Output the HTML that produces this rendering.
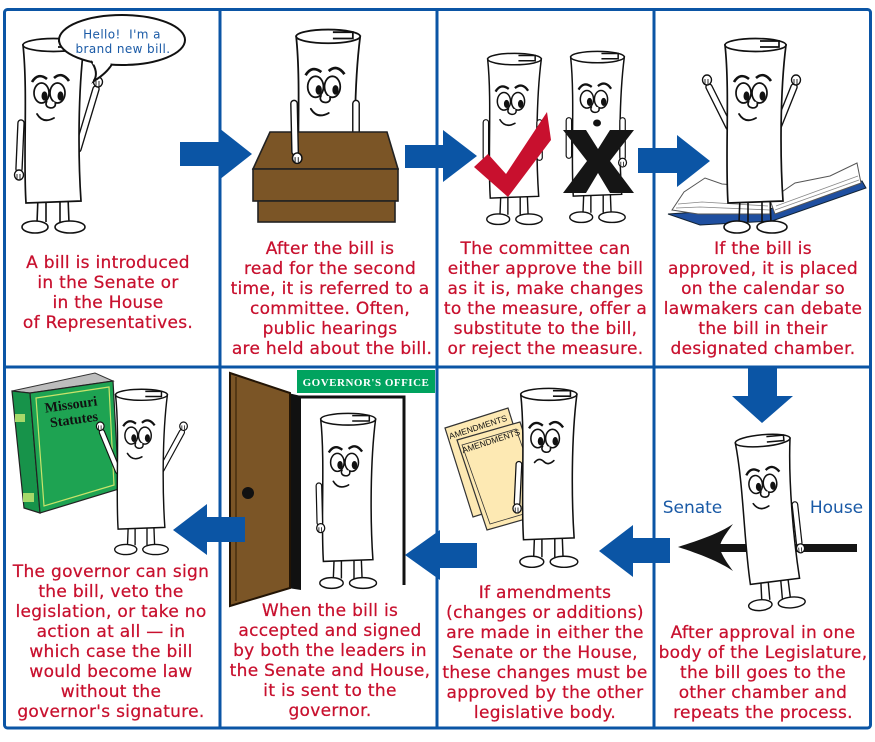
<!DOCTYPE html>
<html><head><meta charset="utf-8">
<style>
html,body{margin:0;padding:0;background:#fff;}
svg{display:block;}
.t{font-family:"DejaVu Sans","Liberation Sans",sans-serif;font-size:17px;fill:#c8102e;stroke:#c8102e;stroke-width:0.25;letter-spacing:0.3px;text-anchor:middle;}
.ao{stroke:#111;stroke-width:7.5;fill:none;stroke-linecap:round;}
.ai{stroke:#fff;stroke-width:4.8;fill:none;stroke-linecap:round;}
.ln{fill:none;stroke:#111;stroke-width:1.8;stroke-linecap:round;}
.bl{fill:#0b55a5;}
</style></head><body>
<svg width="875" height="742" viewBox="0 0 875 742" xmlns="http://www.w3.org/2000/svg">
<defs>
 <g id="legs" fill="white" stroke="#111" stroke-width="1.6">
  <path d="M18,160 L17,186 M26,160 L26,185 M40,160 L40,185 M48,160 L49,186" fill="none"/>
  <ellipse cx="15" cy="190" rx="13" ry="6"/>
  <ellipse cx="50" cy="190" rx="15" ry="6"/>
 </g>
 <g id="body" stroke="#111" stroke-width="1.7" fill="white">
  <path d="M3,8 C8,55 3,120 6,166 L61,164 C58,120 58,55 64,8 Z"/>
  <ellipse cx="33.5" cy="8" rx="30.5" ry="6.5"/>
  <path d="M38,4 L57,4 L57,10 L38,10"/>
  <path d="M12,45 Q18,35 27,42 M34,41 Q42,34 49,44" fill="none" stroke-width="2.6"/>
  <ellipse cx="21.5" cy="56" rx="7.5" ry="10"/>
  <ellipse cx="37.5" cy="56" rx="7.5" ry="10"/>
  <ellipse cx="24.5" cy="59" rx="3" ry="4.6" fill="#111" stroke="none"/>
  <ellipse cx="40.5" cy="59" rx="3" ry="4.6" fill="#111" stroke="none"/>
  <path d="M27,64 C22,72 38,74 35,65"/>
 </g>
 <g id="hand">
  <ellipse rx="4.5" ry="5" fill="white" stroke="#111" stroke-width="1.4"/>
  <path d="M-2,-1 L-2,4 M1,-1 L1,4" stroke="#111" stroke-width="0.9"/>
 </g>
</defs>

<!-- Panel borders -->
<rect x="4.5" y="9.5" width="866" height="718.5" rx="3" fill="#fff" stroke="#0b55a5" stroke-width="3"/>
<line x1="220" y1="9.5" x2="220" y2="728" stroke="#0b55a5" stroke-width="3"/>
<line x1="437" y1="9.5" x2="437" y2="728" stroke="#0b55a5" stroke-width="3"/>
<line x1="654" y1="9.5" x2="654" y2="728" stroke="#0b55a5" stroke-width="3"/>
<line x1="4.5" y1="367" x2="870.5" y2="367" stroke="#0b55a5" stroke-width="3"/>

<!-- Panel 1 -->
<g transform="translate(20,37)">
 <path class="ao" d="M58,112 L76,52"/><path class="ai" d="M58,112 L76,52"/>
 <use href="#hand" x="78" y="45"/>
 <use href="#legs"/>
 <use href="#body"/>
 <path class="ln" d="M17,77 Q23,87 34,81"/>
 <path class="ao" d="M1,86 L-1,132"/><path class="ai" d="M1,86 L-1,132"/>
 <use href="#hand" x="-1" y="138"/>
</g>
<ellipse cx="122" cy="40" rx="63" ry="25" fill="#fff" stroke="#111" stroke-width="2"/>
<path d="M91,61 Q99,72 94,81 Q107,73 112,64" fill="#fff" stroke="#111" stroke-width="2"/>
<path d="M93,62.5 L110,64.5" stroke="#fff" stroke-width="3.5"/>
<text x="122" y="38.5" font-family="DejaVu Sans,sans-serif" font-size="12" fill="#1a5aa6" text-anchor="middle" letter-spacing="0.4" xml:space="preserve">Hello!  I'm a</text>
<text x="123" y="53" font-family="DejaVu Sans,sans-serif" font-size="12" fill="#1a5aa6" text-anchor="middle" letter-spacing="0.4">brand new bill.</text>

<!-- Panel 2 -->
<g transform="translate(293,28) scale(1.05)">
 <use href="#body"/>
 <path class="ln" d="M17,77 Q23,87 34,81"/>
 <path class="ao" d="M60,72 L60,100"/><path class="ai" d="M60,72 L60,100"/>
</g>
<polygon points="270,132 387,132 398,169 253,169" fill="#7b5526" stroke="#222" stroke-width="1.6"/>
<rect x="253" y="169" width="145" height="32" fill="#7b5526" stroke="#222" stroke-width="1.6"/>
<rect x="258" y="201" width="137" height="21" fill="#7b5526" stroke="#222" stroke-width="1.6"/>
<g transform="translate(293,28) scale(1.05)">
 <path class="ao" d="M1,72 L2,118"/><path class="ai" d="M1,72 L2,118"/>
 <use href="#hand" x="4" y="124"/>
</g>

<!-- Panel 3 -->
<g transform="translate(485,52) scale(0.88)">
 <use href="#legs"/>
 <use href="#body"/>
 <path class="ln" d="M17,77 Q23,87 34,81"/>
 <path class="ao" d="M1,80 L1,120"/><path class="ai" d="M1,80 L1,120"/>
 <path class="ao" d="M62,80 L62,120"/><path class="ai" d="M62,80 L62,120"/>
</g>
<polygon points="474,167 488,154 506,174 547,112 551,140 508,197" fill="#c8102e"/>
<g transform="translate(568,50) scale(0.88)">
 <use href="#legs"/>
 <use href="#body"/>
 <ellipse cx="33" cy="83" rx="4.5" ry="4" fill="#111"/>
 <path class="ao" d="M1,80 L1,120"/><path class="ai" d="M1,80 L1,120"/>
 <path class="ao" d="M62,80 L62,122"/><path class="ai" d="M62,80 L62,122"/>
 <use href="#hand" x="62" y="128"/>
</g>
<polygon points="563,130 586,130 598,149 610,130 634,130 610,161 634,193 610,193 598,173 586,193 563,193 587,161" fill="#151515"/>

<!-- Panel 4 -->
<polygon points="668,214 700,225 772,221 866,188 862,181 770,209 698,212" fill="#1f4fa0" stroke="#123" stroke-width="1"/>
<polygon points="672,210 684,192 705,178 722,184 748,186 770,200 770,214 698,214" fill="#fff" stroke="#555" stroke-width="1"/>
<polygon points="770,200 795,183 830,176 857,163 861,183 775,214" fill="#fff" stroke="#555" stroke-width="1"/>
<path d="M676,208 L700,207 L770,210 M678,204 L702,202 L768,206 M775,210 L859,180 M776,206 L858,176" stroke="#888" stroke-width="0.8" fill="none"/>
<g transform="translate(722,37)">
 <path class="ao" d="M7,90 L-13,50"/><path class="ai" d="M7,90 L-13,50"/>
 <use href="#hand" x="-15" y="43"/>
 <path class="ao" d="M56,90 L72,50"/><path class="ai" d="M56,90 L72,50"/>
 <use href="#hand" x="74" y="43"/>
 <use href="#legs"/>
 <use href="#body"/>
 <path class="ln" d="M17,77 Q23,87 34,81"/>
</g>

<!-- Panel 5 -->
<polygon points="12,391 95,373 113,381 30,393" fill="#bdbdbd" stroke="#333" stroke-width="1"/>
<polygon points="12,391 30,393 40,513 24,508" fill="#17934a" stroke="#222" stroke-width="1.2"/>
<polygon points="30,393 113,381 119,489 40,513" fill="#1ea352" stroke="#222" stroke-width="1.2"/>
<polygon points="36,398 109,387 114,485 44,506" fill="none" stroke="#c9e36b" stroke-width="1.2"/>
<rect x="15" y="414" width="10" height="8" fill="#a7d96a"/>
<rect x="23" y="493" width="11" height="9" fill="#a7d96a"/>
<text x="71" y="409" font-family="Liberation Serif,serif" font-weight="bold" font-size="14" fill="#111" text-anchor="middle" transform="rotate(-8 71 405)">Missouri</text>
<text x="74" y="424" font-family="Liberation Serif,serif" font-weight="bold" font-size="14" fill="#111" text-anchor="middle" transform="rotate(-8 74 420)">Statutes</text>
<g transform="translate(113,388) scale(0.85)">
 <path class="ao" d="M6,98 L-13,52"/><path class="ai" d="M6,98 L-13,52"/>
 <use href="#hand" x="-15" y="45"/>
 <path class="ao" d="M57,96 L81,52"/><path class="ai" d="M57,96 L81,52"/>
 <use href="#hand" x="83" y="45"/>
 <use href="#legs"/>
 <use href="#body"/>
 <path class="ln" d="M17,77 Q23,87 34,81"/>
</g>

<!-- Panel 6 -->
<polygon points="288,393 301,396 301,590 288,588" fill="#111"/>
<path d="M299,397 L404,397 L404,585" fill="none" stroke="#111" stroke-width="3"/>
<polygon points="230,373 290,393 290,588 230,606" fill="#7b5526" stroke="#221405" stroke-width="2"/>
<line x1="236" y1="377" x2="236" y2="601" stroke="#3a2508" stroke-width="1.2"/>
<circle cx="248" cy="493" r="6" fill="#111"/>
<rect x="297" y="370" width="138" height="23" fill="#00a35f"/>
<text x="366" y="386" font-family="Liberation Serif,serif" font-weight="bold" font-size="11" fill="#fff" text-anchor="middle" letter-spacing="0.5">GOVERNOR'S OFFICE</text>
<g transform="translate(318,412) scale(0.9)">
 <use href="#legs"/>
 <use href="#body"/>
 <path class="ln" d="M17,77 Q23,87 34,81"/>
 <path class="ao" d="M1,82 L2,123"/><path class="ai" d="M1,82 L2,123"/>
 <use href="#hand" x="3" y="129"/>
</g>

<!-- Panel 7 -->
<polygon points="445,428 508,408 536,497 473,517" fill="#fde9b3" stroke="#333" stroke-width="1.2"/>
<polygon points="457,440 520,422 550,512 487,530" fill="#fde9b3" stroke="#333" stroke-width="1.2"/>
<polygon points="462,445 516,429 544,508 490,524" fill="none" stroke="#333" stroke-width="0.8"/>
<text x="478" y="430" font-family="Liberation Sans,sans-serif" font-size="8.5" fill="#111" text-anchor="middle" transform="rotate(-18 478 427)">AMENDMENTS</text>
<text x="491" y="444" font-family="Liberation Sans,sans-serif" font-size="8.5" fill="#111" text-anchor="middle" transform="rotate(-18 491 441)">AMENDMENTS</text>
<g transform="translate(518,387) scale(0.92)">
 <use href="#legs"/>
 <use href="#body"/>
 <path class="ln" d="M18,82 Q23,76 28,81 Q33,86 39,80"/>
 <path class="ao" d="M1,84 L-1,126"/><path class="ai" d="M1,84 L-1,126"/>
 <use href="#hand" x="-1" y="132"/>
</g>

<!-- Panel 8 -->
<line x1="700" y1="548" x2="857" y2="548" stroke="#151515" stroke-width="8"/>
<path d="M678,547 C700,540 720,533 733,524 C725,535 720,542 720,547 C720,552 725,560 733,571 C720,562 700,554 678,547 Z" fill="#151515"/>
<g transform="translate(732,436) rotate(-5) scale(0.9)">
 <use href="#legs"/>
 <use href="#body"/>
 <path class="ln" d="M17,77 Q23,87 34,81"/>
 <path class="ao" d="M63,82 L64,125"/><path class="ai" d="M63,82 L64,125"/>
 <use href="#hand" x="65" y="131"/>
</g>
<text x="692.5" y="513" font-family="DejaVu Sans,sans-serif" font-size="17" fill="#1a5aa6" text-anchor="middle">Senate</text>
<text x="836.5" y="513" font-family="DejaVu Sans,sans-serif" font-size="17" fill="#1a5aa6" text-anchor="middle">House</text>

<!-- Blue arrows -->
<polygon class="bl" points="180,142 219,142 219,128 252,154 219,180 219,166 180,166"/>
<polygon class="bl" points="405,145 443,145 443,130 477,156 443,182 443,168 405,168"/>
<polygon class="bl" points="638,148 677,148 677,135 710,161 677,187 677,173 638,173"/>
<polygon class="bl" points="748,366 777,366 777,396 793,396 762,423 732,396 748,396"/>
<polygon class="bl" points="670,538 633,538 633,525 599,551 633,577 633,563 670,563"/>
<polygon class="bl" points="477,543 440,543 440,530 405,555 440,580 440,568 477,568"/>
<polygon class="bl" points="245,517 207,517 207,504 173,530 207,555 207,542 245,542"/>

<!-- Text -->
<g class="t">
 <text x="108" y="268">A bill is introduced</text>
 <text x="108" y="288">in the Senate or</text>
 <text x="108" y="308">in the House</text>
 <text x="108" y="328">of Representatives.</text>

 <text x="330" y="254">After the bill is</text>
 <text x="330" y="274">read for the second</text>
 <text x="330" y="294">time, it is referred to a</text>
 <text x="330" y="314">committee. Often,</text>
 <text x="330" y="334">public hearings</text>
 <text x="332" y="354">are held about the bill.</text>

 <text x="545.5" y="254">The committee can</text>
 <text x="545.5" y="274">either approve the bill</text>
 <text x="545.5" y="294">as it is, make changes</text>
 <text x="545.5" y="314">to the measure, offer a</text>
 <text x="545.5" y="334">substitute to the bill,</text>
 <text x="545.5" y="354">or reject the measure.</text>

 <text x="763" y="254">If the bill is</text>
 <text x="763" y="274">approved, it is placed</text>
 <text x="763" y="294">on the calendar so</text>
 <text x="763" y="314">lawmakers can debate</text>
 <text x="763" y="334">the bill in their</text>
 <text x="763" y="354">designated chamber.</text>

 <text x="111" y="577">The governor can sign</text>
 <text x="111" y="597">the bill, veto the</text>
 <text x="111" y="617">legislation, or take no</text>
 <text x="111" y="637">action at all — in</text>
 <text x="111" y="657">which case the bill</text>
 <text x="111" y="677">would become law</text>
 <text x="111" y="697">without the</text>
 <text x="111" y="717">governor's signature.</text>

 <text x="330" y="616">When the bill is</text>
 <text x="330" y="636">accepted and signed</text>
 <text x="330" y="656">by both the leaders in</text>
 <text x="330" y="676">the Senate and House,</text>
 <text x="330" y="696">it is sent to the</text>
 <text x="330" y="716">governor.</text>

 <text x="545" y="598">If amendments</text>
 <text x="545" y="618">(changes or additions)</text>
 <text x="545" y="638">are made in either the</text>
 <text x="545" y="658">Senate or the House,</text>
 <text x="545" y="678">these changes must be</text>
 <text x="545" y="698">approved by the other</text>
 <text x="545" y="718">legislative body.</text>

 <text x="763" y="638">After approval in one</text>
 <text x="763" y="658">body of the Legislature,</text>
 <text x="763" y="678">the bill goes to the</text>
 <text x="763" y="698">other chamber and</text>
 <text x="763" y="718">repeats the process.</text>
</g>
</svg>
</body></html>
